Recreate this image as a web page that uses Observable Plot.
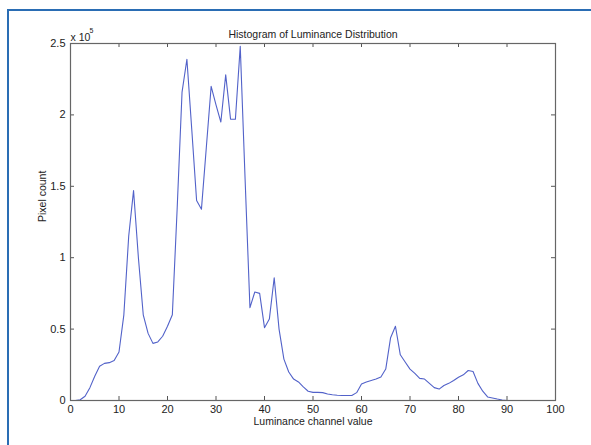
<!DOCTYPE html>
<html>
<head>
<meta charset="utf-8">
<script src="https://cdn.jsdelivr.net/npm/d3@7"></script>
<script src="https://cdn.jsdelivr.net/npm/@observablehq/plot@0.6"></script>
<style>
  html, body { margin: 0; padding: 0; background: #fff; }
  #wrap { position: relative; width: 591px; height: 445px; overflow: hidden; }
  #border { position: absolute; left: 7px; top: 9px; width: 700px; height: 600px;
            border-left: 2px solid #2a6db4; border-top: 2px solid #2a6db4; pointer-events: none; }
  #chart { position: absolute; left: 0; top: 0; }
</style>
</head>
<body>
<div id="wrap"><div id="chart"></div><div id="border"></div></div>
<script>
// Luminance channel values (bins)
const luminance = d3.range(0, 92);
// Pixel counts in units of 10^5
const pixelCount = [
  0, 0, 0.005, 0.03, 0.09, 0.17, 0.24, 0.26, 0.265, 0.28,
  0.34, 0.6, 1.15, 1.47, 1.0, 0.6, 0.47, 0.40, 0.41, 0.45,
  0.52, 0.6, 1.35, 2.16, 2.39, 1.9, 1.40, 1.34, 1.77, 2.20,
  2.07, 1.95, 2.28, 1.97, 1.97, 2.48, 1.55, 0.65, 0.76, 0.75,
  0.51, 0.57, 0.86, 0.50, 0.29, 0.20, 0.15, 0.13, 0.095, 0.065,
  0.057, 0.057, 0.055, 0.045, 0.04, 0.037, 0.035, 0.035, 0.035, 0.055,
  0.115, 0.13, 0.14, 0.15, 0.165, 0.22, 0.44, 0.52, 0.32, 0.27,
  0.22, 0.19, 0.155, 0.15, 0.12, 0.09, 0.08, 0.105, 0.12, 0.14,
  0.163, 0.18, 0.21, 0.203, 0.12, 0.065, 0.025, 0.018, 0.01, 0.003,
  0, 0
];
const xTicks = [0, 10, 20, 30, 40, 50, 60, 70, 80, 90, 100];
const yTicks = [0, 0.5, 1, 1.5, 2, 2.5];
const titleText = "Histogram of Luminance Distribution";
const xLabel = "Luminance channel value";
const yLabel = "Pixel count";

const data = luminance.map((v, i) => ({v, c: pixelCount[i]}));

const W = 591, H = 445;
const mT = 43, mB = 45, mL = 70, mR = 36;
const plotH = H - mT - mB, plotW = W - mL - mR;
const tickLen = 4;
const font = "Liberation Sans, Arial, sans-serif";

const chart = Plot.plot({
  width: W, height: H,
  marginTop: mT, marginBottom: mB, marginLeft: mL, marginRight: mR,
  style: {fontFamily: font, fontSize: "10px", color: "#222", background: "transparent"},
  x: {domain: [0, 100]},
  y: {domain: [0, 2.5]},
  marks: [
    Plot.line(data, {x: "v", y: "c", stroke: "#5262c9", strokeWidth: 1.1}),
    // inward ticks, MATLAB-style, on all four sides
    Plot.tickX(xTicks, {x: d => d, stroke: "#555", insetTop: plotH - tickLen}),
    Plot.tickX(xTicks, {x: d => d, stroke: "#555", insetBottom: plotH - tickLen}),
    Plot.tickY(yTicks, {y: d => d, stroke: "#555", insetRight: plotW - tickLen}),
    Plot.tickY(yTicks, {y: d => d, stroke: "#555", insetLeft: plotW - tickLen}),
    Plot.frame({stroke: "#666", strokeWidth: 1.2}),
    Plot.axisX({ticks: xTicks, tickSize: 0, tickPadding: 5, label: null, fontSize: 11}),
    Plot.axisY({ticks: yTicks, tickSize: 0, tickPadding: 5, label: null, fontSize: 11, tickFormat: d => String(d)}),
    Plot.text([titleText], {frameAnchor: "top", dy: -13, text: d => d, fontSize: 10.5}),
    Plot.text([xLabel], {frameAnchor: "bottom", dy: 24, text: d => d, fontSize: 10.5}),
    Plot.text([yLabel], {frameAnchor: "left", dx: -28, rotate: -90, text: d => d, fontSize: 10.5}),
    Plot.text(["x 10"], {frameAnchor: "top-left", textAnchor: "start", dx: 0, dy: -10, text: d => d, fontSize: 10.5}),
    Plot.text(["5"], {frameAnchor: "top-left", textAnchor: "start", dx: 19, dy: -15, text: d => d, fontSize: 7})
  ]
});
document.getElementById("chart").appendChild(chart);
</script>
</body>
</html>
